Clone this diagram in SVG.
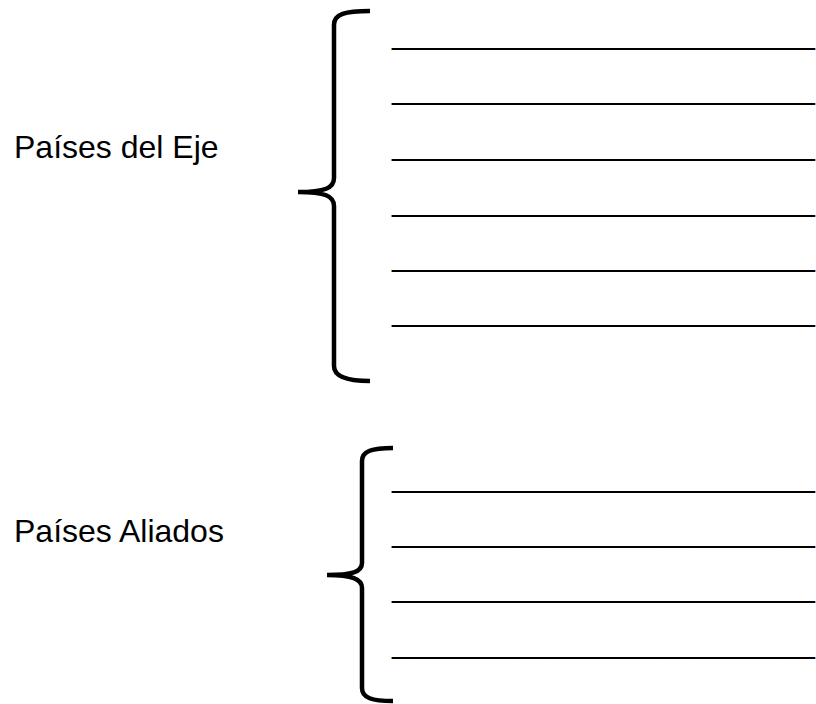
<svg xmlns="http://www.w3.org/2000/svg" width="816" height="704" viewBox="0 0 816 704">
<style>
.lbl{font-family:"Liberation Sans",Arial,sans-serif;font-size:32px;fill:#000}
.blank{font-family:"Liberation Sans",Arial,sans-serif;font-size:32px;fill:#000}
.brace{fill:none;stroke:#000;stroke-width:4.5;stroke-linecap:butt}
</style>
<rect width="816" height="704" fill="#fff"/>
<g id="eje">
<text class="lbl" x="14" y="158">Países del Eje</text>
<path class="brace" d="M370,11 C345,11 334,14 334,25 L334,178 C334,188 325,192 298,192 C325,192 334,196 334,206 L334,366 C334,376 345,381 370,381"/>
<text class="blank" x="392" y="44" textLength="423" lengthAdjust="spacingAndGlyphs">________________________</text>
<text class="blank" x="392" y="99" textLength="423" lengthAdjust="spacingAndGlyphs">________________________</text>
<text class="blank" x="392" y="155" textLength="423" lengthAdjust="spacingAndGlyphs">________________________</text>
<text class="blank" x="392" y="211" textLength="423" lengthAdjust="spacingAndGlyphs">________________________</text>
<text class="blank" x="392" y="266" textLength="423" lengthAdjust="spacingAndGlyphs">________________________</text>
<text class="blank" x="392" y="321" textLength="423" lengthAdjust="spacingAndGlyphs">________________________</text>
</g>
<g id="aliados">
<text class="lbl" x="14" y="542">Países Aliados</text>
<path class="brace" d="M393,448 C372,448 362,451 362,461 L362,563 C362,572 352,575 327,575 C352,575 362,579 362,588 L362,688 C362,698 372,701 393,701"/>
<text class="blank" x="392" y="487" textLength="423" lengthAdjust="spacingAndGlyphs">________________________</text>
<text class="blank" x="392" y="542" textLength="423" lengthAdjust="spacingAndGlyphs">________________________</text>
<text class="blank" x="392" y="597" textLength="423" lengthAdjust="spacingAndGlyphs">________________________</text>
<text class="blank" x="392" y="653" textLength="423" lengthAdjust="spacingAndGlyphs">________________________</text>
</g>
<g id="connectors"/>
</svg>
